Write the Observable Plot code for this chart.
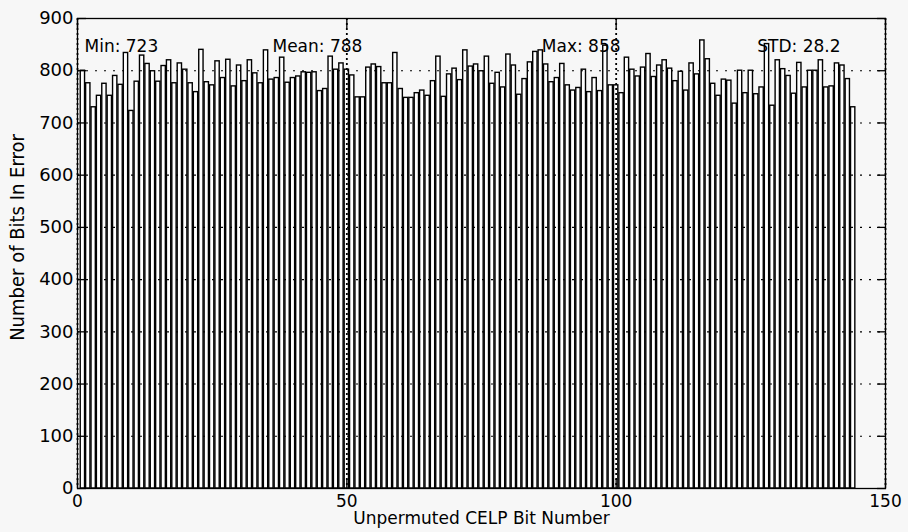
<!DOCTYPE html>
<html>
<head>
<meta charset="utf-8">
<script src="https://cdn.jsdelivr.net/npm/d3@7"></script>
<script src="https://cdn.jsdelivr.net/npm/@observablehq/plot@0.6"></script>
<style>
  html, body { margin: 0; padding: 0; background: #f7f7f7; }
  #chart { width: 908px; height: 532px; }
  #chart svg { background: #f7f7f7; font-family: "DejaVu Sans", "Liberation Sans", sans-serif; }
</style>
</head>
<body>
<div id="chart"></div>
<script>
// Bit numbers 1..144 (unpermuted CELP bit index)
const bits = d3.range(1, 145);
// Number of bits in error for each bit
const errors = [
  800, 776, 730, 752, 775, 752, 790, 773, 834, 723,
  779, 829, 813, 799, 779, 809, 820, 776, 814, 802,
  776, 759, 840, 778, 772, 818, 786, 821, 770, 810,
  780, 820, 795, 776, 839, 783, 786, 825, 777, 786,
  789, 797, 796, 797, 761, 765, 827, 802, 814, 802,
  791, 749, 749, 806, 812, 807, 776, 776, 834, 765,
  748, 748, 757, 762, 752, 780, 827, 750, 793, 804,
  782, 839, 808, 812, 799, 827, 775, 796, 768, 831,
  810, 754, 784, 816, 836, 839, 812, 778, 786, 813,
  772, 762, 767, 802, 759, 786, 761, 848, 772, 772,
  757, 825, 802, 789, 806, 832, 788, 810, 820, 804,
  780, 798, 762, 814, 793, 858, 822, 775, 752, 783,
  781, 737, 800, 757, 800, 755, 768, 851, 733, 820,
  803, 790, 756, 815, 768, 800, 800, 820, 768, 770,
  814, 810, 784, 730
];
const xTicks = [0, 50, 100, 150];
const yTicks = [0, 100, 200, 300, 400, 500, 600, 700, 800, 900];
const statLabels = ["Min: 723", "Mean: 788", "Max: 858", "STD: 28.2"];
const statAnchorX = [1.3, 36.2, 86.2, 126.2];
const xLabel = "Unpermuted CELP Bit Number";
const yLabel = "Number of Bits In Error";

const data = bits.map((b, i) => ({bit: b, value: errors[i]}));
const stats = statLabels.map((t, i) => ({text: t, x: statAnchorX[i]}));

const chart = Plot.plot({
  width: 908,
  height: 532,
  marginLeft: 77,
  marginRight: 23,
  marginTop: 18,
  marginBottom: 44,
  style: {background: "#f7f7f7", color: "black", fontSize: "16px"},
  x: {domain: [0, 150]},
  y: {domain: [0, 900]},
  marks: [
    Plot.rectY(data, {
      x1: d => d.bit - 0.4,
      x2: d => d.bit + 0.4,
      y: "value",
      fill: "white",
      stroke: "black",
      strokeWidth: 1.4
    }),
    Plot.gridY(yTicks, {stroke: "black", strokeOpacity: 1, strokeWidth: 1.1, strokeDasharray: "2,7"}),
    Plot.gridX(xTicks, {stroke: "black", strokeOpacity: 1, strokeWidth: 1.8, strokeDasharray: "2,3"}),
    Plot.frame({stroke: "black", strokeWidth: 1.3}),
    // inward tick marks on all four sides
    Plot.axisY(yTicks, {anchor: "left", tickSize: 9, dx: 9, fill: "none", label: null, strokeWidth: 1.3}),
    Plot.axisY(yTicks, {anchor: "right", tickSize: 9, dx: -9, fill: "none", label: null, strokeWidth: 1.3}),
    Plot.axisX(xTicks, {anchor: "bottom", tickSize: 9, dy: -9, fill: "none", label: null, strokeWidth: 1.3}),
    Plot.axisX(xTicks, {anchor: "top", tickSize: 9, dy: 9, fill: "none", label: null, strokeWidth: 1.3}),
    // tick labels
    Plot.axisY(yTicks, {anchor: "left", tickSize: 0, tickPadding: 4, label: null, fontSize: 18}),
    Plot.axisX(xTicks, {anchor: "bottom", tickSize: 0, tickPadding: 6, label: null, fontSize: 17}),
    // axis titles
    Plot.text([xLabel], {frameAnchor: "bottom", dy: 35, fontSize: 17, text: d => d}),
    Plot.text([yLabel], {frameAnchor: "left", textAnchor: "middle", dx: -60, dy: -16, rotate: -90,
      fontSize: 20, text: d => d,
      fontFamily: "'Liberation Sans Narrow', 'DejaVu Sans Condensed', 'Liberation Sans', sans-serif"}),
    // statistics annotations
    Plot.text(stats, {x: "x", text: "text", frameAnchor: "top", dy: 21, textAnchor: "start", fontSize: 17})
  ]
});
document.getElementById("chart").appendChild(chart);
</script>
</body>
</html>
